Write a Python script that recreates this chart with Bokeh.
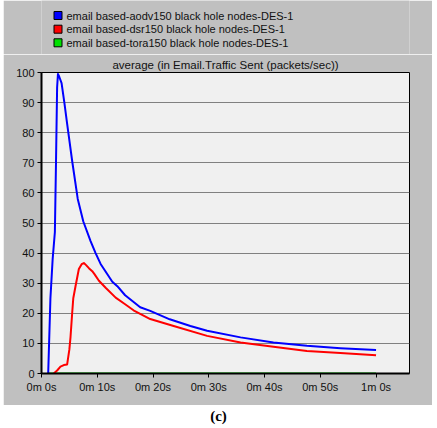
from bokeh.plotting import figure
from bokeh.models import Range1d, FixedTicker
from bokeh.layouts import column
from bokeh.core.properties import value
from bokeh.embed import file_html
from bokeh.resources import INLINE

# ---------------- data ----------------
series_names = [
    "email based-aodv150 black hole  nodes-DES-1",
    "email based-dsr150 black hole  nodes-DES-1",
    "email based-tora150 black hole  nodes-DES-1",
]
series_colors = ["#0000ff", "#ff0000", "#00e000"]
chart_title = "average (in Email.Traffic Sent (packets/sec))"

aodv_t = [1.2, 1.6, 2.0, 2.4, 2.6, 2.8, 2.95, 3.2, 3.6, 4.1, 4.6, 5.5, 6.5, 7.5,
          8.8, 9.7, 10.6, 12.7, 13.6, 15.0, 17.7, 19.5, 23.0, 26.7, 29.7, 35.7,
          41.6, 47.6, 53.6, 60.0]
aodv_v = [0, 25, 38, 47, 70, 95, 99.5, 98.5, 96.5, 90, 82.9, 70.6, 58.0, 50.5,
          44, 40, 36.4, 30.5, 29, 26, 22, 20.8, 18, 15.8, 14.2, 12,
          10.3, 9.2, 8.4, 7.8]

dsr_t = [2.2, 2.8, 3.4, 4.0, 4.6, 5.0, 5.2, 5.5, 5.7, 6.1, 6.7, 7.2, 7.6, 8.0,
         8.5, 9.1, 9.5, 10.3, 11.5, 13.3, 15.0, 16.5, 17.7, 19.5, 23.7, 29.7,
         35.7, 41.6, 47.6, 53.6, 60.0]
dsr_v = [0, 1, 2.3, 2.8, 3.0, 8, 12, 20, 25, 29, 34.7, 36.3, 36.7, 36,
         35, 34, 33, 30.8, 28.5, 25.2, 23, 21, 19.8, 18.1, 15.8, 12.5,
         10.3, 8.9, 7.5, 6.8, 6.1]

tora_t = [1.2, 60.0]
tora_v = [0, 0]

x_ticks = [0, 10, 20, 30, 40, 50, 60]
x_labels = ["0m 0s", "0m 10s", "0m 20s", "0m 30s", "0m 40s", "0m 50s", "1m 0s"]
y_ticks = [0, 10, 20, 30, 40, 50, 60, 70, 80, 90, 100]

GREY = "#c0c0c0"
FONT = value("Liberation Sans")
TXT = "#111111"
BL, BR = 38, 23          # borders so that every frame spans page x 41..409
FX0, FX1 = 41, 409       # page x of the frame edges


def blank(height, bg):
    f = figure(width=429, height=height, x_range=Range1d(FX0, FX1),
               y_range=Range1d(height, 0), toolbar_location=None,
               output_backend="svg", min_border_left=BL, min_border_right=BR,
               min_border_top=0, min_border_bottom=0,
               x_axis_location=None, y_axis_location=None, margin=(0, 0, 0, 3))
    f.background_fill_color = bg
    f.border_fill_color = bg
    f.outline_line_color = None
    f.grid.visible = False
    return f


# ---------------- header (legend) ----------------
header = blank(54, GREY)
leg_y = [15, 28.7, 42.3]
header.rect(x=57.5, y=leg_y, width=8, height=8, fill_color=series_colors,
            line_color="black", line_width=1)
header.text(x=66, y=leg_y, text=series_names, text_baseline="middle",
            text_font=FONT, text_font_size="11px", text_color=TXT)

# ---------------- main plot ----------------
p = figure(width=429, height=351, x_range=Range1d(0, 66), y_range=Range1d(0, 100),
           toolbar_location=None, output_backend="svg", margin=(0, 0, 0, 3),
           min_border_left=BL, min_border_right=BR, min_border_top=18,
           min_border_bottom=32)
p.background_fill_color = "#f0f0f0"
p.border_fill_color = GREY
p.outline_line_color = "black"
p.outline_line_width = 1

p.title.text = chart_title
p.title.align = "center"
p.title.offset = 4
p.title.text_font = "Liberation Sans"
p.title.text_font_size = "11.5px"
p.title.text_font_style = "normal"
p.title.text_color = TXT
p.title.standoff = 4

p.xgrid.visible = False
p.ygrid.grid_line_color = "#808080"
p.ygrid.grid_line_width = 1
p.ygrid.ticker = FixedTicker(ticks=y_ticks)

p.xaxis.ticker = FixedTicker(ticks=x_ticks)
p.xaxis.major_label_overrides = dict(zip(x_ticks, x_labels))
p.yaxis.ticker = FixedTicker(ticks=y_ticks)

for ax in (p.xaxis, p.yaxis):
    ax.axis_line_color = "black"
    ax.axis_line_width = 2
    ax.major_tick_line_color = "black"
    ax.major_tick_line_width = 1
    ax.major_tick_out = 4
    ax.major_tick_in = 0
    ax.minor_tick_line_color = None
    ax.major_label_text_font = "Liberation Sans"
    ax.major_label_text_font_size = "11px"
    ax.major_label_text_color = TXT
p.xaxis.major_label_standoff = 3
p.yaxis.major_label_standoff = 3

p.line(tora_t, tora_v, line_color=series_colors[2], line_width=2)
p.line(dsr_t, dsr_v, line_color=series_colors[1], line_width=2, line_join="round")
p.line(aodv_t, aodv_v, line_color=series_colors[0], line_width=2, line_join="round")

# ---------------- footer ----------------
footer = blank(23, "white")
footer.text(x=[218], y=[10], text=["(c)"], text_align="center", text_baseline="middle",
            text_font=value("Liberation Serif"), text_font_style="bold",
            text_font_size="15px", text_color="black")

layout = column(header, p, footer, spacing=0)
open("out.html", "w").write(file_html(layout, INLINE))
